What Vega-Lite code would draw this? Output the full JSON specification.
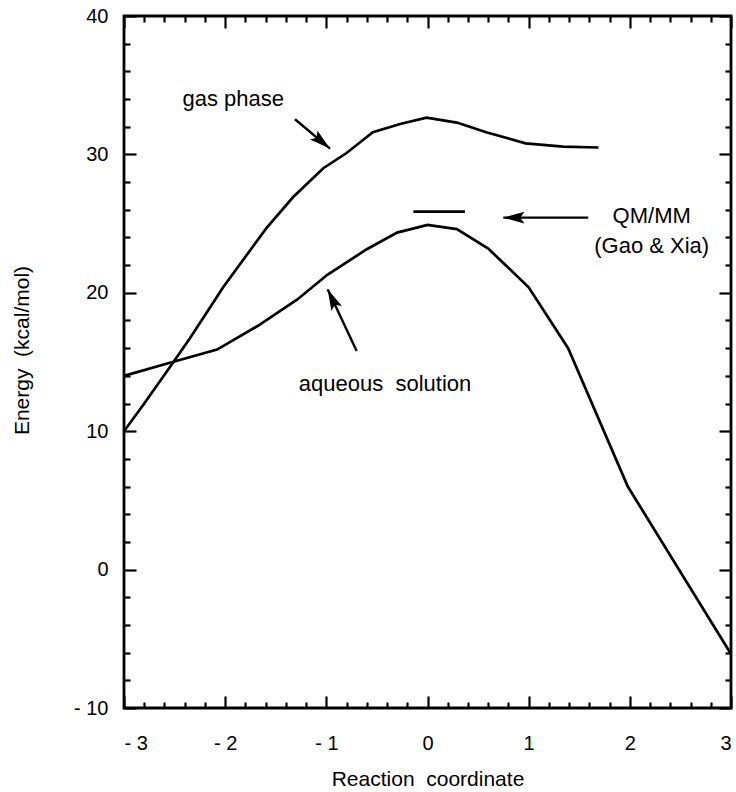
{
  "$schema": "https://vega.github.io/schema/vega-lite/v6.json",
  "width": 607,
  "height": 692,
  "autosize": "none",
  "padding": {"left": 124, "top": 16, "right": 5, "bottom": 84},
  "config": {
    "view": {"stroke": "black", "strokeWidth": 2.8},
    "font": "Liberation Sans",
    "axis": {
      "domain": false,
      "grid": false,
      "tickColor": "black",
      "tickWidth": 2.2,
      "labelFont": "Liberation Sans",
      "labelFontSize": 20,
      "labelColor": "black",
      "titleFont": "Liberation Sans",
      "titleFontSize": 21,
      "titleFontWeight": "normal",
      "titleColor": "black"
    }
  },
  "datasets": {
    "gas": [
      {"x": -3.0, "y": 10.0}, {"x": -2.8, "y": 12.0}, {"x": -2.53, "y": 14.8},
      {"x": -2.35, "y": 16.7}, {"x": -2.1, "y": 19.5},
      {"x": -2.02, "y": 20.4}, {"x": -1.72, "y": 23.4}, {"x": -1.59, "y": 24.7},
      {"x": -1.33, "y": 26.9}, {"x": -1.03, "y": 29.0}, {"x": -0.8, "y": 30.1},
      {"x": -0.54, "y": 31.6}, {"x": -0.27, "y": 32.2}, {"x": -0.01, "y": 32.65},
      {"x": 0.29, "y": 32.3}, {"x": 0.58, "y": 31.6}, {"x": 0.97, "y": 30.8},
      {"x": 1.34, "y": 30.56}, {"x": 1.69, "y": 30.5}
    ],
    "aqueous": [
      {"x": -3.0, "y": 14.0}, {"x": -2.52, "y": 15.0}, {"x": -2.08, "y": 15.9},
      {"x": -1.68, "y": 17.6}, {"x": -1.29, "y": 19.5}, {"x": -0.99, "y": 21.3},
      {"x": -0.6, "y": 23.15}, {"x": -0.3, "y": 24.35}, {"x": 0.0, "y": 24.9},
      {"x": 0.29, "y": 24.6}, {"x": 0.6, "y": 23.2}, {"x": 1.0, "y": 20.4},
      {"x": 1.39, "y": 16.0}, {"x": 1.98, "y": 6.0}, {"x": 3.0, "y": -6.1}
    ],
    "qmmm": [
      {"x": -0.14, "y": 25.87}, {"x": 0.37, "y": 25.87}
    ],
    "arrows": [
      {"arrow": "gas", "end": "tail", "x": -1.31, "y": 32.54},
      {"arrow": "gas", "end": "head", "x": -0.964, "y": 30.42},
      {"arrow": "aqueous", "end": "tail", "x": -0.7, "y": 15.79},
      {"arrow": "aqueous", "end": "head", "x": -0.987, "y": 20.25},
      {"arrow": "qmmm", "end": "tail", "x": 1.589, "y": 25.43},
      {"arrow": "qmmm", "end": "head", "x": 0.749, "y": 25.43}
    ],
    "labels": [
      {"text": "gas phase", "x": -1.92, "y": 34.0},
      {"text": "aqueous\u00a0 solution", "x": -0.42, "y": 13.4},
      {"text": "QM/MM", "x": 2.216, "y": 25.55},
      {"text": "(Gao & Xia)", "x": 2.216, "y": 23.4}
    ]
  },
  "layer": [
    {
      "data": {"name": "aqueous"},
      "mark": {"type": "line", "color": "black", "strokeWidth": 2.7},
      "encoding": {
        "x": {"field": "x", "type": "quantitative",
          "scale": {"domain": [-3, 3], "nice": false, "zero": false},
          "axis": {"orient": "bottom", "values": [-3, -2, -1, 0, 1, 2, 3], "tickSize": -12, "labels": false, "title": null}},
        "y": {"field": "y", "type": "quantitative",
          "scale": {"domain": [-10, 40], "nice": false, "zero": false},
          "axis": {"orient": "left", "values": [-10, 0, 10, 20, 30, 40], "tickSize": -12, "labels": false, "title": null}}
      }
    },
    {
      "data": {"name": "gas"},
      "mark": {"type": "line", "color": "black", "strokeWidth": 2.7},
      "encoding": {
        "x": {"field": "x", "type": "quantitative",
          "scale": {"domain": [-3, 3], "nice": false, "zero": false},
          "axis": {"orient": "bottom", "values": [-2.8, -2.6, -2.4, -2.2, -1.8, -1.6, -1.4, -1.2, -0.8, -0.6, -0.4, -0.2, 0.2, 0.4, 0.6, 0.8, 1.2, 1.4, 1.6, 1.8, 2.2, 2.4, 2.6, 2.8], "tickSize": -6, "labels": false, "title": null}},
        "y": {"field": "y", "type": "quantitative",
          "scale": {"domain": [-10, 40], "nice": false, "zero": false},
          "axis": {"orient": "left", "values": [-8, -6, -4, -2, 2, 4, 6, 8, 12, 14, 16, 18, 22, 24, 26, 28, 32, 34, 36, 38], "tickSize": -6, "labels": false, "title": null}}
      }
    },
    {
      "data": {"name": "qmmm"},
      "mark": {"type": "line", "color": "black", "strokeWidth": 2.7},
      "encoding": {
        "x": {"field": "x", "type": "quantitative",
          "scale": {"domain": [-3, 3], "nice": false, "zero": false},
          "axis": {"orient": "top", "values": [-3, -2, -1, 0, 1, 2, 3], "tickSize": -12, "labels": false, "title": null}},
        "y": {"field": "y", "type": "quantitative",
          "scale": {"domain": [-10, 40], "nice": false, "zero": false},
          "axis": {"orient": "right", "values": [-10, 0, 10, 20, 30, 40], "tickSize": -12, "labels": false, "title": null}}
      }
    },
    {
      "data": {"name": "arrows"},
      "mark": {"type": "line", "color": "black", "strokeWidth": 2.4},
      "encoding": {
        "detail": {"field": "arrow"},
        "x": {"field": "x", "type": "quantitative",
          "scale": {"domain": [-3, 3], "nice": false, "zero": false},
          "axis": {"orient": "top", "values": [-2.8, -2.6, -2.4, -2.2, -1.8, -1.6, -1.4, -1.2, -0.8, -0.6, -0.4, -0.2, 0.2, 0.4, 0.6, 0.8, 1.2, 1.4, 1.6, 1.8, 2.2, 2.4, 2.6, 2.8], "tickSize": -6, "labels": false, "title": null}},
        "y": {"field": "y", "type": "quantitative",
          "scale": {"domain": [-10, 40], "nice": false, "zero": false},
          "axis": {"orient": "right", "values": [-8, -6, -4, -2, 2, 4, 6, 8, 12, 14, 16, 18, 22, 24, 26, 28, 32, 34, 36, 38], "tickSize": -6, "labels": false, "title": null}}
      }
    },
    {
      "data": {"name": "arrows"},
      "transform": [{"filter": "datum.end == 'head' && datum.arrow == 'gas'"}],
      "mark": {"type": "point", "shape": "M0,0L0.55,2L0,1.6L-0.55,2Z", "filled": true, "color": "black", "opacity": 1, "size": 450, "angle": 129.6},
      "encoding": {
        "x": {"field": "x", "type": "quantitative",
          "scale": {"domain": [-3, 3], "nice": false, "zero": false},
          "axis": {"orient": "bottom", "values": [-3, -2, -1, 0, 1, 2, 3], "ticks": false, "labelPadding": 25,
            "labelExpr": "datum.value < 0 ? '- ' + abs(datum.value) : datum.label",
            "title": "Reaction\u00a0 coordinate", "titleX": 303.5, "titleY": 77, "titleBaseline": "alphabetic", "titleAlign": "center"}},
        "y": {"field": "y", "type": "quantitative",
          "scale": {"domain": [-10, 40], "nice": false, "zero": false},
          "axis": {"orient": "left", "values": [-10, 0, 10, 20, 30, 40], "ticks": false, "labelPadding": 16,
            "labelExpr": "datum.value < 0 ? '- ' + abs(datum.value) : datum.label",
            "title": "Energy\u00a0 (kcal/mol)", "titleX": -102, "titleY": 334, "titleAngle": -90, "titleBaseline": "middle", "titleAlign": "center"}}
      }
    },
    {
      "data": {"name": "arrows"},
      "transform": [{"filter": "datum.end == 'head' && datum.arrow == 'aqueous'"}],
      "mark": {"type": "point", "shape": "M0,0L0.55,2L0,1.6L-0.55,2Z", "filled": true, "color": "black", "opacity": 1, "size": 450, "angle": 334.8},
      "encoding": {
        "x": {"field": "x", "type": "quantitative", "scale": {"domain": [-3, 3], "nice": false, "zero": false}, "axis": null},
        "y": {"field": "y", "type": "quantitative", "scale": {"domain": [-10, 40], "nice": false, "zero": false}, "axis": null}
      }
    },
    {
      "data": {"name": "arrows"},
      "transform": [{"filter": "datum.end == 'head' && datum.arrow == 'qmmm'"}],
      "mark": {"type": "point", "shape": "M0,0L0.55,2L0,1.6L-0.55,2Z", "filled": true, "color": "black", "opacity": 1, "size": 450, "angle": 270},
      "encoding": {
        "x": {"field": "x", "type": "quantitative", "scale": {"domain": [-3, 3], "nice": false, "zero": false}, "axis": null},
        "y": {"field": "y", "type": "quantitative", "scale": {"domain": [-10, 40], "nice": false, "zero": false}, "axis": null}
      }
    },
    {
      "data": {"name": "labels"},
      "mark": {"type": "text", "font": "Liberation Sans", "fontSize": 22, "color": "black", "align": "center", "baseline": "middle"},
      "encoding": {
        "text": {"field": "text"},
        "x": {"field": "x", "type": "quantitative", "scale": {"domain": [-3, 3], "nice": false, "zero": false}, "axis": null},
        "y": {"field": "y", "type": "quantitative", "scale": {"domain": [-10, 40], "nice": false, "zero": false}, "axis": null}
      }
    }
  ],
  "resolve": {"axis": {"x": "independent", "y": "independent"}}
}
